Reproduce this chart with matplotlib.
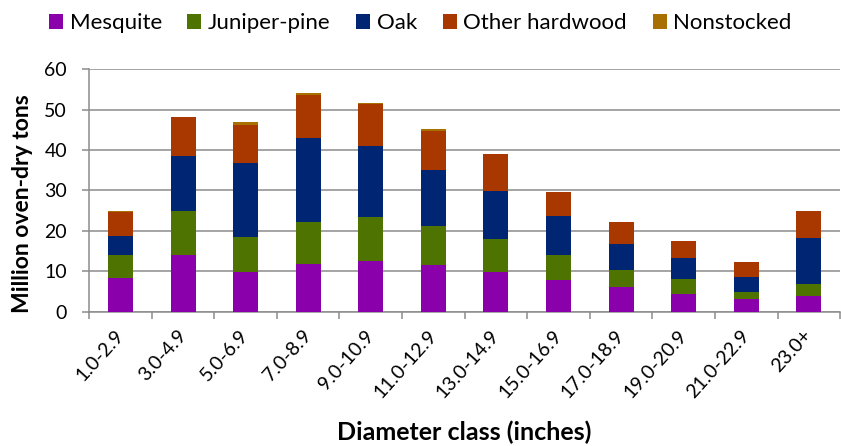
import numpy as np
import matplotlib
matplotlib.use("Agg")
import matplotlib.pyplot as plt
from matplotlib.patches import Patch

plt.rcParams["font.family"] = ["Lato", "DejaVu Sans"]

classes = ["1.0-2.9", "3.0-4.9", "5.0-6.9", "7.0-8.9", "9.0-10.9", "11.0-12.9",
           "13.0-14.9", "15.0-16.9", "17.0-18.9", "19.0-20.9", "21.0-22.9", "23.0+"]
mesquite = [8.3, 14.0, 9.9, 11.9, 12.6, 11.6, 9.8, 7.9, 6.0, 4.4, 3.1, 3.8]
juniper = [5.7, 10.9, 8.7, 10.3, 10.8, 9.5, 8.1, 6.2, 4.3, 3.6, 1.7, 3.1]
oak = [4.8, 13.7, 18.3, 20.7, 17.7, 14.0, 11.9, 9.6, 6.4, 5.2, 3.7, 11.4]
other_hw = [5.9, 9.5, 9.4, 10.7, 10.2, 9.7, 9.1, 5.9, 5.4, 4.4, 3.7, 6.5]
nonstocked = [0.1, 0.1, 0.6, 0.5, 0.4, 0.4, 0.1, 0.1, 0.0, 0.0, 0.0, 0.0]

series = [("Mesquite", mesquite, "#8a00aa"),
          ("Juniper-pine", juniper, "#4e7300"),
          ("Oak", oak, "#002673"),
          ("Other hardwood", other_hw, "#a83800"),
          ("Nonstocked", nonstocked, "#a87000")]

fig = plt.figure(figsize=(8.41, 4.46), dpi=100)
ax = fig.add_axes([0.106, 0.301, 0.893, 0.544])

x = np.arange(len(classes))
bottom = np.zeros(len(classes))
for name, vals, col in series:
    vals = np.array(vals)
    ax.bar(x, vals, 0.4, bottom=bottom, color=col, edgecolor="none", zorder=3)
    bottom += vals

ax.set_xlim(-0.5, len(classes) - 0.5)
ax.set_ylim(0, 60)
ax.set_yticks(range(0, 61, 10))
ax.yaxis.grid(True, color="#8c8c8c", lw=1.1, zorder=0)
# ticks sit between categories, labels under the bars
ax.set_xticks(np.arange(-0.5, len(classes), 1.0))
ax.set_xticklabels([])
ax.set_xticks(x, minor=True)
ax.set_xticklabels(classes, minor=True, rotation=48, ha="right", va="center",
                   rotation_mode="anchor", fontsize=14)
ax.tick_params(axis="x", which="minor", length=0, pad=15)
ax.tick_params(axis="x", which="major", length=5, color="#8c8c8c", width=1.1)
ax.tick_params(axis="y", length=5, color="#8c8c8c", width=1.1, labelsize=14, pad=11)

for s in ("top", "right"):
    ax.spines[s].set_visible(False)
for s in ("left", "bottom"):
    ax.spines[s].set_color("#8c8c8c")
    ax.spines[s].set_linewidth(1.1)

ax.set_ylabel("Million oven-dry tons", fontsize=16.5, fontweight="bold")
ax.yaxis.set_label_coords(-0.075, 0.444)
ax.set_xlabel("Diameter class (inches)", fontsize=18, fontweight="bold")
ax.xaxis.set_label_coords(0.5, -0.45)

handles = [Patch(facecolor=c, edgecolor="none", label=n) for n, _, c in series]
fig.legend(handles=handles, loc="upper left", bbox_to_anchor=(0.045, 0.995), ncol=5,
           frameon=False, fontsize=16, borderpad=0, handlelength=0.63, handleheight=0.63,
           handletextpad=0.3, columnspacing=1.15)

fig.savefig("out.png", dpi=100)
